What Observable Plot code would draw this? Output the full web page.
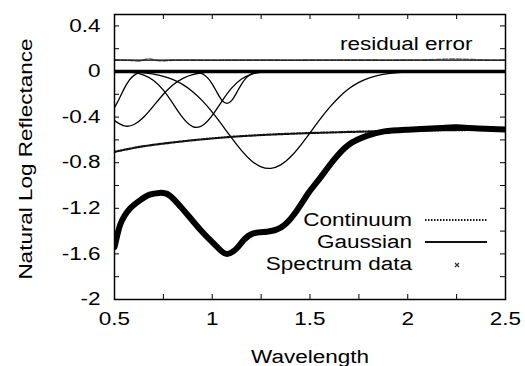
<!DOCTYPE html>
<html><head><meta charset="utf-8">
<script src="https://cdn.jsdelivr.net/npm/d3@7"></script>
<script src="https://cdn.jsdelivr.net/npm/@observablehq/plot@0.6"></script>
<style>
html,body{margin:0;padding:0;background:#fff;}
#chart{width:525px;height:366px;overflow:hidden;}
</style></head><body><div id="chart"></div>
<script>
// ---- data ----
const xTitle = "Wavelength";
const yTitle = "Natural Log Reflectance";
const residualLabel = "residual error";
const legendLabels = ["Continuum", "Gaussian", "Spectrum data"];

const xTicks = [0.5, 0.75, 1, 1.25, 1.5, 1.75, 2, 2.25, 2.5];
const xTickLabels = [0.5, 1, 1.5, 2, 2.5];
const yTicks = [-2, -1.8, -1.6, -1.4, -1.2, -1, -0.8, -0.6, -0.4, -0.2, 0, 0.2, 0.4];
const yTickLabels = [-2, -1.6, -1.2, -0.8, -0.4, 0, 0.4];

const gaussBaseline = [0];
const residualBaseline = [0.1];

const specWl  = [0.5, 0.515, 0.53, 0.55, 0.58, 0.63, 0.68, 0.73, 0.78, 0.84, 0.89, 0.94, 0.99, 1.04, 1.075, 1.12, 1.16, 1.21, 1.28, 1.35, 1.42, 1.49, 1.54, 1.62, 1.7, 1.79, 1.88, 2.0, 2.17, 2.25, 2.36, 2.5];
const specVal = [-1.54, -1.43, -1.34, -1.27, -1.2, -1.13, -1.08, -1.065, -1.085, -1.19, -1.29, -1.39, -1.48, -1.565, -1.6, -1.56, -1.48, -1.42, -1.405, -1.37, -1.25, -1.07, -0.96, -0.78, -0.64, -0.565, -0.525, -0.51, -0.495, -0.49, -0.5, -0.51];

const contWl  = [0.5, 0.6, 0.7, 0.8, 0.9, 1.0, 1.1, 1.2, 1.3, 1.4, 1.5, 1.6, 1.7, 1.8, 1.9, 2.0, 2.2, 2.5];
const contVal = [-0.705, -0.67, -0.643, -0.622, -0.603, -0.587, -0.573, -0.562, -0.553, -0.546, -0.54, -0.535, -0.53, -0.526, -0.522, -0.519, -0.515, -0.51];

const resWl  = [0.5, 0.55, 0.6, 0.63, 0.67, 0.7, 0.74, 0.8, 0.9, 1.0, 1.1, 1.2, 1.3, 1.4, 1.5, 1.6, 1.7, 1.8, 1.9, 2.0, 2.1, 2.2, 2.3, 2.4, 2.5];
const resVal = [0.102, 0.101, 0.094, 0.091, 0.112, 0.104, 0.092, 0.1, 0.1, 0.099, 0.1, 0.101, 0.1, 0.099, 0.1, 0.101, 0.1, 0.1, 0.099, 0.1, 0.102, 0.11, 0.108, 0.1, 0.1];

const g1Wl  = [0.5, 0.525, 0.55, 0.575, 0.6, 0.625, 0.65, 0.7];
const g1Val = [-0.318, -0.237, -0.148, -0.078, -0.034, -0.013, -0.004, 0];
const g2Wl  = [0.5, 0.55, 0.6, 0.65, 0.7, 0.75, 0.8, 0.85, 0.9, 0.95, 1.0, 1.05];
const g2Val = [-0.431, -0.477, -0.465, -0.399, -0.302, -0.2, -0.117, -0.06, -0.027, -0.011, -0.004, 0];
const g3Wl  = [0.55, 0.6, 0.65, 0.7, 0.75, 0.8, 0.85, 0.9, 0.95, 1.0, 1.05, 1.1, 1.15, 1.2, 1.25, 1.3];
const g3Val = [-0.003, -0.01, -0.031, -0.079, -0.164, -0.284, -0.407, -0.483, -0.474, -0.385, -0.259, -0.144, -0.066, -0.025, -0.008, -0.002];
const g4Wl  = [0.9, 0.925, 0.95, 0.975, 1.0, 1.025, 1.05, 1.075, 1.1, 1.125, 1.15, 1.175, 1.2, 1.225, 1.25];
const g4Val = [-0.002, -0.007, -0.021, -0.054, -0.11, -0.185, -0.253, -0.28, -0.253, -0.185, -0.11, -0.054, -0.021, -0.007, -0.002];
const g5Wl  = [0.6, 0.65, 0.7, 0.75, 0.8, 0.85, 0.9, 0.95, 1.0, 1.05, 1.1, 1.15, 1.2, 1.25, 1.3, 1.35, 1.4, 1.45, 1.5, 1.55, 1.6, 1.65, 1.7, 1.75, 1.8, 1.85, 1.9, 1.95, 2.0, 2.05];
const g5Val = [-0.006, -0.012, -0.023, -0.042, -0.071, -0.115, -0.177, -0.258, -0.357, -0.469, -0.585, -0.694, -0.782, -0.836, -0.849, -0.819, -0.75, -0.652, -0.539, -0.423, -0.315, -0.223, -0.15, -0.096, -0.058, -0.033, -0.018, -0.009, -0.005, -0.002];

// ---- layout ----
const W = 525, H = 366, mL = 114, mR = 20, mT = 14, mB = 67;
const plotW = W - mL - mR, plotH = H - mT - mB;
const tickLen = 5;
const stretchX = 1.25;
const font = '"Liberation Sans", Arial, Helvetica, sans-serif';
const dotted = "1.5,1.5";

const rows = (xs, ys, k) => xs.map((x, i) => ({x, y: ys[i], k}));
const specRows = rows(specWl, specVal);
const contRows = rows(contWl, contVal);
const resRows = rows(resWl, resVal);
const gaussRows = [[g1Wl, g1Val], [g2Wl, g2Val], [g3Wl, g3Val], [g4Wl, g4Val], [g5Wl, g5Val]]
  .flatMap(([a, b], k) => rows(a, b, k));

const fmt = d => String(d);

const chart = Plot.plot({
  width: W, height: H,
  marginLeft: mL, marginRight: mR, marginTop: mT, marginBottom: mB,
  style: {fontFamily: font, fontSize: "18px", color: "black", background: "white"},
  x: {domain: [0.5, 2.5], label: null},
  y: {domain: [-2, 0.5], label: null},
  marks: [
    Plot.line(contRows, {x: "x", y: "y", stroke: "#111", strokeWidth: 2.2, strokeDasharray: dotted, curve: "natural", clip: true}),
    Plot.line(gaussRows, {x: "x", y: "y", z: "k", stroke: "black", strokeWidth: 1.3, curve: "natural", clip: true}),
    Plot.ruleY(gaussBaseline, {stroke: "black", strokeWidth: 3.3}),
    Plot.line(resRows, {x: "x", y: "y", stroke: "#8a8a8a", strokeWidth: 1.6, strokeDasharray: "5,2", curve: "natural", clip: true}),
    Plot.ruleY(residualBaseline, {stroke: "black", strokeWidth: 1.3}),
    Plot.line(specRows, {x: "x", y: "y", stroke: "black", strokeWidth: 6, curve: "natural", clip: true}),
    Plot.ruleX(xTicks, {stroke: "black", strokeWidth: 1, insetTop: plotH - tickLen}),
    Plot.ruleX(xTicks, {stroke: "black", strokeWidth: 1, insetBottom: plotH - tickLen}),
    Plot.ruleY(yTicks, {stroke: "black", strokeWidth: 1, insetRight: plotW - tickLen}),
    Plot.ruleY(yTicks, {stroke: "black", strokeWidth: 1, insetLeft: plotW - tickLen}),
    Plot.frame({stroke: "black", strokeWidth: 1.5}),
    Plot.axisX(xTickLabels, {tickSize: 0, tickPadding: 13, tickFormat: fmt, label: null, fontSize: 18}),
    Plot.axisY(yTickLabels, {tickSize: 0, tickPadding: 14, tickFormat: fmt, label: null, fontSize: 18}),
    Plot.text([xTitle], {frameAnchor: "bottom", dy: 63, lineAnchor: "bottom", fontSize: 18}),
    Plot.text([yTitle], {frameAnchor: "left", rotate: -90, dx: -83, dy: 2, textAnchor: "middle", lineAnchor: "bottom", fontSize: 18, ariaLabel: "ytitle"}),
    Plot.text([residualLabel], {frameAnchor: "top-right", dx: -33, dy: 35.5, lineAnchor: "bottom", textAnchor: "end", fontSize: 18})
  ]
});

// widen glyphs like the reference's stretched text (keep em offsets intact)
chart.querySelectorAll("text").forEach(t => {
  const rotated = !!t.closest('[aria-label="ytitle"]');
  const x = t.getAttribute("x");
  if (!rotated && x !== null && !/em$/.test(x) && isFinite(+x)) t.setAttribute("x", +x / stretchX);
  const tr = t.getAttribute("transform") || "";
  t.setAttribute("transform", (tr + (rotated ? ` scale(1,${stretchX})` : ` scale(${stretchX},1)`)).trim());
});

// legend
const svg = d3.select(chart);
const lg = svg.append("g").attr("font-family", font).attr("font-size", 18).attr("fill", "black");
const baseY = [226, 248, 270];
legendLabels.forEach((lab, i) => {
  lg.append("text").attr("text-anchor", "end")
    .attr("transform", `translate(412,${baseY[i]}) scale(${stretchX},1)`).text(lab);
});
lg.append("line").attr("x1", 425).attr("x2", 487).attr("y1", 220).attr("y2", 220)
  .attr("stroke", "#111").attr("stroke-width", 2.2).attr("stroke-dasharray", dotted);
lg.append("line").attr("x1", 425).attr("x2", 487).attr("y1", 242).attr("y2", 242)
  .attr("stroke", "#111").attr("stroke-width", 1.8);
lg.append("path").attr("d", "M455,263L459,267M455,267L459,263").attr("stroke", "#333").attr("stroke-width", 1.3);

document.getElementById("chart").appendChild(chart);
</script></body></html>
